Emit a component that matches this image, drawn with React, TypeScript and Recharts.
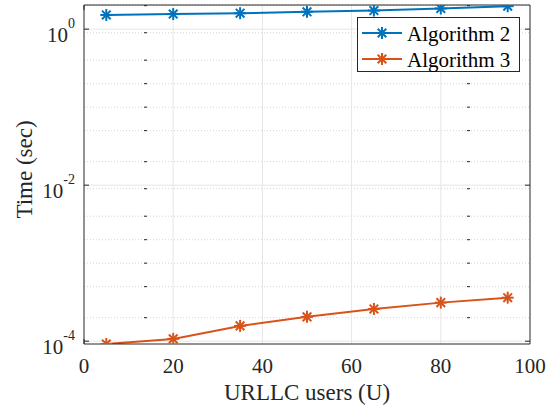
import React from "react";
import { CartesianGrid, Legend, Line, LineChart, XAxis, YAxis } from "recharts";

const users = [5, 20, 35, 50, 65, 80, 95];
const algorithm2 = [1.52, 1.56, 1.6, 1.67, 1.73, 1.84, 1.97];
const algorithm3 = [0.92e-4, 1.07e-4, 1.57e-4, 2.05e-4, 2.59e-4, 3.12e-4, 3.61e-4];

const xTicks = [0, 20, 40, 60, 80, 100];
const xGrid = [20, 40, 60, 80];
const yTicks = [1e-4, 1e-2, 1];
const yMinor = [
  2e-4, 3e-4, 4e-4, 5e-4, 6e-4, 7e-4, 8e-4, 9e-4,
  1e-3, 2e-3, 3e-3, 4e-3, 5e-3, 6e-3, 7e-3, 8e-3, 9e-3,
  2e-2, 3e-2, 4e-2, 5e-2, 6e-2, 7e-2, 8e-2, 9e-2,
  1e-1, 2e-1, 3e-1, 4e-1, 5e-1, 6e-1, 7e-1, 8e-1, 9e-1,
  2,
];
const yDomain = [9.2e-5, 2.04];

const series = [
  { key: "alg2", name: "Algorithm 2", color: "#0072BD" },
  { key: "alg3", name: "Algorithm 3", color: "#D95319" },
];

const data = users.map((u, i) => ({ u, alg2: algorithm2[i], alg3: algorithm3[i] }));

const FONT = "Liberation Serif";
const INK = "#262626";
const serif = { fontFamily: FONT };

function Star({ cx, cy, color }: { cx?: number; cy?: number; color: string }) {
  if (cx == null || cy == null) return <g />;
  const r = 6;
  const d = r * 0.72;
  return (
    <g stroke={color} strokeWidth={2} strokeLinecap="butt">
      <line x1={cx - r} y1={cy} x2={cx + r} y2={cy} />
      <line x1={cx} y1={cy - r} x2={cx} y2={cy + r} />
      <line x1={cx - d} y1={cy - d} x2={cx + d} y2={cy + d} />
      <line x1={cx - d} y1={cy + d} x2={cx + d} y2={cy - d} />
    </g>
  );
}

function PowTick(props: any) {
  const { x, y, payload } = props;
  const exp = Math.round(Math.log10(payload.value));
  return (
    <text x={x} y={y + 13} textAnchor="end" fill={INK} fontSize={21} style={serif}>
      <tspan>10</tspan>
      <tspan dy={-14} fontSize={14}>{String(exp)}</tspan>
    </text>
  );
}

function XTick(props: any) {
  const { x, y, payload } = props;
  return (
    <text x={x} y={y + 29} textAnchor="middle" fill={INK} fontSize={21} style={serif}>
      {payload.value}
    </text>
  );
}

function XLabel(props: any) {
  const vb = props.viewBox || { x: 84, y: 344, width: 446, height: 60 };
  return (
    <text x={vb.x + vb.width / 2} y={vb.y + vb.height - 4} textAnchor="middle" fill={INK} fontSize={23} style={serif}>
      URLLC users (U)
    </text>
  );
}

function YLabel(props: any) {
  const vb = props.viewBox || { x: 0, y: 5, height: 339 };
  const cx = vb.x + 23.5;
  const cy = vb.y + vb.height / 2 - 5;
  return (
    <text
      x={cx}
      y={cy}
      dy="0.35em"
      textAnchor="middle"
      transform={`rotate(-90 ${cx} ${cy})`}
      fill={INK}
      fontSize={23}
      style={serif}
    >
      Time (sec)
    </text>
  );
}

function LegendBox() {
  return (
    <svg width={163} height={55} style={{ display: "block" }}>
      <rect x={0.5} y={0.5} width={162} height={54} fill="#fff" stroke={INK} strokeWidth={1} />
      {series.map((s, i) => {
        const cy = 16 + i * 26;
        return (
          <g key={s.key}>
            <line x1={5} y1={cy} x2={45} y2={cy} stroke={s.color} strokeWidth={2} />
            <Star cx={25} cy={cy} color={s.color} />
            <text x={50} y={cy + 7.5} fontSize={21} style={serif} fill="#000">
              {s.name}
            </text>
          </g>
        );
      })}
    </svg>
  );
}

const noTick = () => <g />;

export default function App() {
  return (
    <div style={{ position: "absolute", left: 0, top: 0, fontFamily: FONT, background: "#fff" }}>
      <LineChart width={547} height={411} data={data} margin={{ top: 5, right: 17, bottom: 7, left: 0 }}>
        <CartesianGrid
          vertical={false}
          horizontalValues={yMinor}
          stroke="#d4d4d4"
          strokeDasharray="1 2"
        />
        <CartesianGrid horizontal={false} verticalValues={xGrid} stroke="#e6e6e6" />
        <CartesianGrid vertical={false} horizontalValues={yTicks} stroke="#e6e6e6" />
        <XAxis
          dataKey="u"
          type="number"
          domain={[0, 100]}
          ticks={xTicks}
          height={60}
          tickLine={false}
          tickSize={0}
          tickMargin={0}
          axisLine={{ stroke: INK }}
          tick={<XTick />}
          label={(p: any) => <XLabel {...p} />}
        />
        <XAxis
          xAxisId="bm"
          orientation="bottom"
          mirror
          type="number"
          domain={[0, 100]}
          ticks={xTicks}
          axisLine={false}
          tick={noTick}
          tickSize={5}
          tickLine={{ stroke: INK }}
        />
        <XAxis
          xAxisId="top"
          orientation="top"
          mirror
          type="number"
          domain={[0, 100]}
          ticks={xTicks}
          axisLine={{ stroke: INK }}
          tick={noTick}
          tickSize={5}
          tickLine={{ stroke: INK }}
        />
        <YAxis
          type="number"
          scale="log"
          domain={yDomain}
          allowDataOverflow
          ticks={yTicks}
          width={84}
          tickLine={false}
          tickSize={0}
          tickMargin={9}
          axisLine={{ stroke: INK }}
          tick={<PowTick />}
          label={(p: any) => <YLabel {...p} />}
        />
        <YAxis yAxisId="lmaj" mirror type="number" scale="log" domain={yDomain} allowDataOverflow ticks={yTicks}
          axisLine={false} tick={noTick} tickSize={5} tickLine={{ stroke: INK }} />
        <YAxis yAxisId="lmin" mirror type="number" scale="log" domain={yDomain} allowDataOverflow ticks={yMinor}
          axisLine={false} tick={noTick} tickSize={3} tickLine={{ stroke: INK }} />
        <YAxis yAxisId="rmaj" orientation="right" mirror type="number" scale="log" domain={yDomain} allowDataOverflow
          ticks={yTicks} axisLine={{ stroke: INK }} tick={noTick} tickSize={5} tickLine={{ stroke: INK }} />
        <YAxis yAxisId="rmin" orientation="right" mirror type="number" scale="log" domain={yDomain} allowDataOverflow
          ticks={yMinor} axisLine={false} tick={noTick} tickSize={3} tickLine={{ stroke: INK }} />
        <Legend
          layout="horizontal"
          verticalAlign="middle"
          align="center"
          content={() => <LegendBox />}
          wrapperStyle={{ left: 357, top: 17, width: 163, height: 55 }}
        />
        {series.map((s) => (
          <Line
            key={s.key}
            dataKey={s.key}
            name={s.name}
            stroke={s.color}
            strokeWidth={2}
            dot={(p: any) => <Star key={`${s.key}-${p.index}`} cx={p.cx} cy={p.cy} color={s.color} />}
            activeDot={false}
            isAnimationActive={false}
          />
        ))}
      </LineChart>
    </div>
  );
}
